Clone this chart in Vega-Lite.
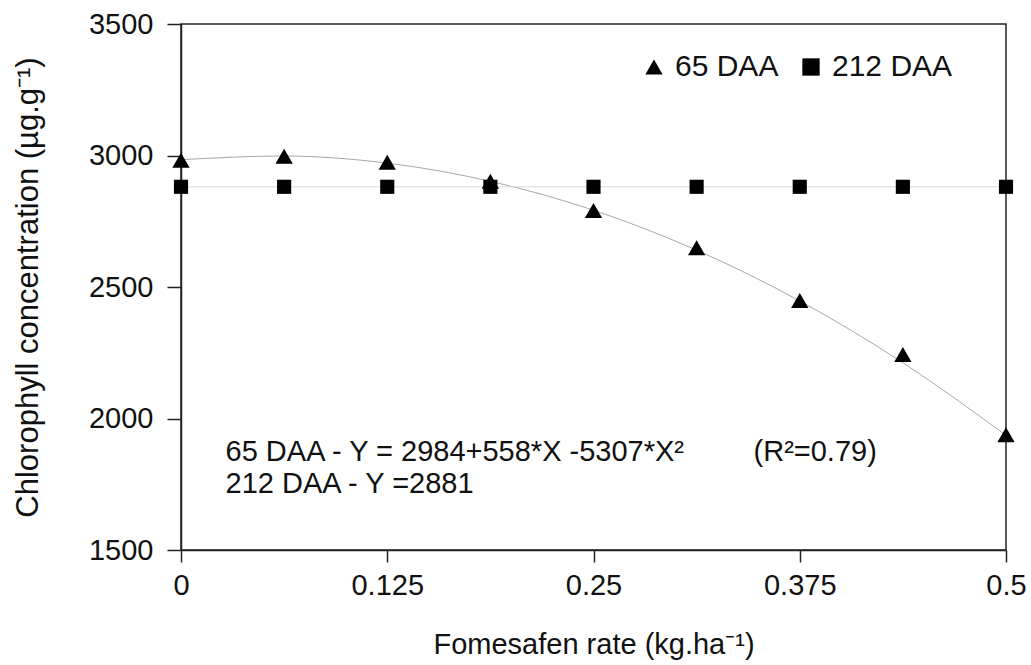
{
  "$schema": "https://vega.github.io/schema/vega-lite/v6.json",
  "width": 825,
  "height": 526,
  "autosize": "none",
  "padding": {"left": 181, "top": 24, "right": 25, "bottom": 115},
  "background": "white",
  "config": {
    "font": "Liberation Sans",
    "view": {"stroke": "#222", "strokeWidth": 1.5},
    "axis": {"grid": false, "domainColor": "#222", "domainWidth": 1.5, "tickColor": "#222", "tickWidth": 1.5, "labelColor": "#111", "titleColor": "#111", "labelFont": "Liberation Sans", "titleFont": "Liberation Sans", "titleFontWeight": "normal"}
  },
  "datasets": {
    "obs": [
      {"rate": 0, "series": "65 DAA", "chl": 2982, "fit": 2984},
      {"rate": 0.0625, "series": "65 DAA", "chl": 2997, "fit": 2998},
      {"rate": 0.125, "series": "65 DAA", "chl": 2974, "fit": 2971},
      {"rate": 0.1875, "series": "65 DAA", "chl": 2902, "fit": 2902},
      {"rate": 0.25, "series": "65 DAA", "chl": 2791, "fit": 2792},
      {"rate": 0.3125, "series": "65 DAA", "chl": 2649, "fit": 2640},
      {"rate": 0.375, "series": "65 DAA", "chl": 2449, "fit": 2447},
      {"rate": 0.4375, "series": "65 DAA", "chl": 2243, "fit": 2212},
      {"rate": 0.5, "series": "65 DAA", "chl": 1938, "fit": 1936},
      {"rate": 0, "series": "212 DAA", "chl": 2881, "fit": 2881},
      {"rate": 0.0625, "series": "212 DAA", "chl": 2881, "fit": 2881},
      {"rate": 0.125, "series": "212 DAA", "chl": 2881, "fit": 2881},
      {"rate": 0.1875, "series": "212 DAA", "chl": 2881, "fit": 2881},
      {"rate": 0.25, "series": "212 DAA", "chl": 2881, "fit": 2881},
      {"rate": 0.3125, "series": "212 DAA", "chl": 2881, "fit": 2881},
      {"rate": 0.375, "series": "212 DAA", "chl": 2881, "fit": 2881},
      {"rate": 0.4375, "series": "212 DAA", "chl": 2881, "fit": 2881},
      {"rate": 0.5, "series": "212 DAA", "chl": 2881, "fit": 2881}
    ],
    "notes": [
      {"rate": 0.027, "chl": 1871, "label": "65 DAA - Y = 2984+558*X -5307*X²"},
      {"rate": 0.347, "chl": 1871, "label": "(R²=0.79)"},
      {"rate": 0.027, "chl": 1751, "label": "212 DAA - Y =2881"}
    ]
  },
  "layer": [
    {
      "data": {"name": "obs"},
      "transform": [{"filter": "datum.series === '65 DAA'"}],
      "mark": {"type": "line", "strokeWidth": 1, "interpolate": "monotone", "color": "#a8a8a8"},
      "encoding": {
        "x": {"field": "rate", "type": "quantitative"},
        "y": {"field": "fit", "type": "quantitative"}
      }
    },
    {
      "data": {"name": "obs"},
      "transform": [{"filter": "datum.series === '212 DAA'"}],
      "mark": {"type": "line", "strokeWidth": 1, "color": "#d8d8d8"},
      "encoding": {
        "x": {"field": "rate", "type": "quantitative"},
        "y": {"field": "fit", "type": "quantitative"}
      }
    },
    {
      "data": {"name": "obs"},
      "transform": [{"filter": "datum.series === '212 DAA'"}],
      "mark": {"type": "point", "filled": true, "color": "black", "opacity": 1, "size": 200},
      "encoding": {
        "x": {"field": "rate", "type": "quantitative"},
        "y": {"field": "chl", "type": "quantitative"},
        "shape": {"field": "series", "type": "nominal"}
      }
    },
    {
      "data": {"name": "obs"},
      "transform": [{"filter": "datum.series === '65 DAA'"}],
      "mark": {"type": "point", "filled": true, "color": "black", "opacity": 1, "size": 300},
      "encoding": {
        "x": {
          "field": "rate", "type": "quantitative",
          "scale": {"domain": [0, 0.5], "nice": false, "zero": false},
          "axis": {"values": [0, 0.125, 0.25, 0.375, 0.5], "format": ".3~f", "title": "Fomesafen rate (kg.ha⁻¹)", "labelFontSize": 29, "titleFontSize": 29, "tickSize": 12, "labelPadding": 9, "titlePadding": 30, "labelFlush": false}
        },
        "y": {
          "field": "chl", "type": "quantitative",
          "scale": {"domain": [1500, 3500], "nice": false, "zero": false},
          "axis": {"values": [1500, 2000, 2500, 3000, 3500], "format": "d", "title": "Chlorophyll concentration (µg.g⁻¹)", "labelFontSize": 29, "titleFontSize": 31, "tickSize": 14, "labelPadding": 14, "titlePadding": 44}
        },
        "shape": {
          "field": "series", "type": "nominal",
          "scale": {"domain": ["65 DAA", "212 DAA"], "range": ["triangle-up", "square"]},
          "legend": {"title": null, "orient": "none", "legendX": 458, "legendY": 28, "direction": "horizontal", "labelFontSize": 30, "labelColor": "#111", "symbolSize": 300, "symbolFillColor": "black", "symbolStrokeColor": "black", "symbolStrokeWidth": 0, "symbolOpacity": 1, "columnPadding": 17, "labelOffset": 6,
            "encode": {"symbols": {"update": {"size": {"signal": "datum.value === '65 DAA' ? 340 : 200"}}}}}
        }
      }
    },
    {
      "data": {"name": "notes"},
      "mark": {"type": "text", "align": "left", "baseline": "middle", "fontSize": 29, "color": "#111"},
      "encoding": {
        "x": {"field": "rate", "type": "quantitative"},
        "y": {"field": "chl", "type": "quantitative"},
        "text": {"field": "label"}
      }
    }
  ]
}
